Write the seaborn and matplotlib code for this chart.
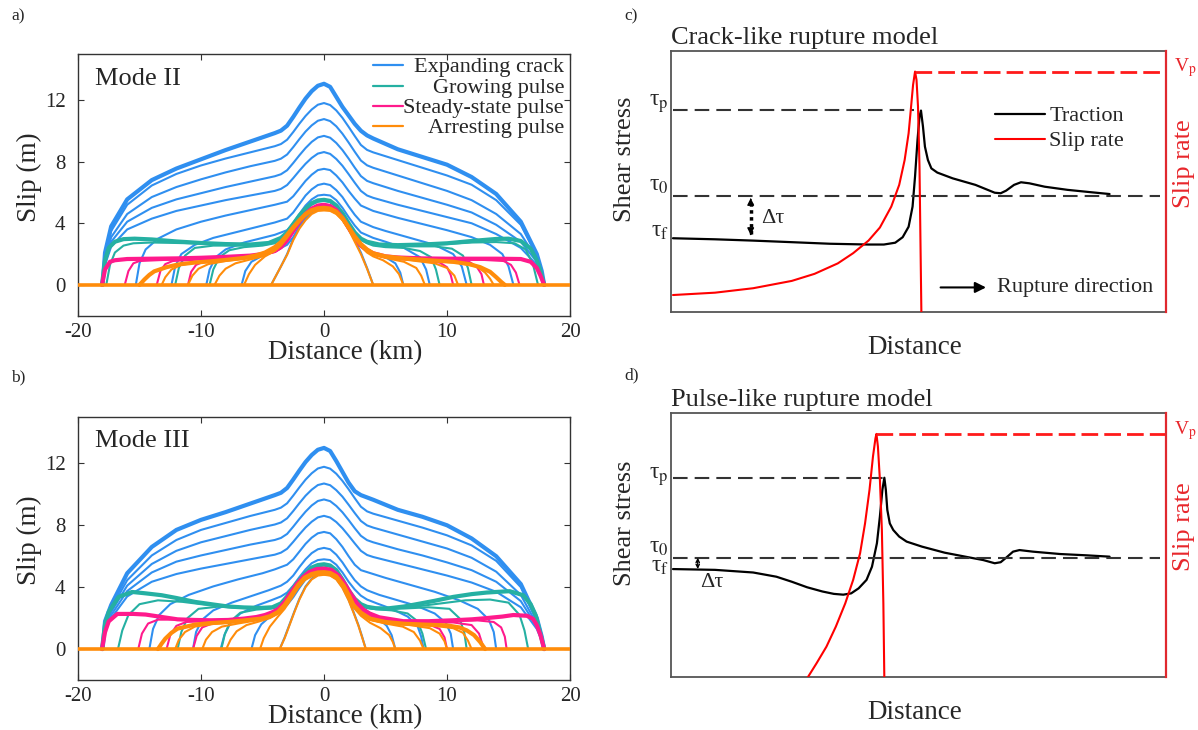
import numpy as np
import pandas as pd
import matplotlib
matplotlib.use('Agg')
from matplotlib import pyplot as plt
from matplotlib.lines import Line2D
import seaborn as sns

sns.set_style('ticks')
plt.rcParams['font.family'] = ['Liberation Serif', 'DejaVu Serif']
plt.rcParams['mathtext.fontset'] = 'stix'
plt.rcParams['axes.unicode_minus'] = False

BLUE = '#2f8ff0'
TEAL = '#25b0a2'
PINK = '#ff1a8c'
ORANGE = '#ff8c0a'

# ---------------- slip profiles, Mode II (panel a) ----------------
# crack profiles whose tips reached the +-18 km barriers share this grid
crack_grid = [-18, -17.8, -17.3, -16, -14, -12, -10, -8, -6, -4, -3.5, -3, -2.5, -2, -1.5, -1, -0.5, 0,
              0.5, 1, 1.5, 2, 2.5, 3, 3.5, 4, 6, 8, 10, 12, 14, 16, 17.3, 17.7, 17.9]

m2_crack_x = [
    [-4.3, -3.9, -3.5, -3, -2.5, -2, -1.5, -1, -0.5, 0, 0.5, 1, 1.5, 2, 2.5, 3, 3.5, 4.0],
    [-6.7, -6.4, -5.9, -5, -4, -3, -2.5, -2, -1.5, -1, -0.5, 0, 0.5, 1, 1.5, 2, 2.5, 3, 4, 5, 5.8, 6.2, 6.45],
    [-9.57, -9.3, -8.8, -8, -6.5, -5, -4, -3, -2.5, -2, -1.5, -1, -0.5, 0, 0.5, 1, 1.5, 2, 2.5, 3, 4, 5, 6.5, 7.8, 8.3, 8.6],
    [-12.4, -12.1, -11.6, -10.5, -9, -7, -5, -4, -3, -2.5, -2, -1.5, -1, -0.5, 0, 0.5, 1, 1.5, 2, 2.5, 3, 4, 5, 7, 9, 10.5, 11.2, 11.6],
    [-15.3, -15.0, -14.5, -13.5, -12, -10, -8, -6, -4, -3, -2.5, -2, -1.5, -1, -0.5, 0, 0.5, 1, 1.5, 2, 2.5, 3, 4, 6, 8, 10, 12, 13.5, 14.5, 15.0, 15.4],
    crack_grid, crack_grid, crack_grid, crack_grid, crack_grid]
m2_crack_y = [
    [0, 0.6, 1.2, 2.0, 3.0, 3.75, 4.3, 4.7, 4.87, 4.9, 4.87, 4.7, 4.3, 3.7, 2.9, 2.1, 1.1, 0],
    [0, 0.9, 1.5, 1.9, 2.2, 2.6, 3.1, 3.8, 4.45, 4.9, 5.15, 5.2, 5.15, 4.85, 4.3, 3.6, 3.0, 2.55, 2.1, 1.8, 1.4, 0.8, 0],
    [0, 1.0, 1.8, 2.3, 2.75, 3.05, 3.25, 3.55, 4.0, 4.6, 5.15, 5.55, 5.8, 5.85, 5.8, 5.5, 5.0, 4.4, 3.85, 3.4, 3.05, 2.8, 2.4, 1.8, 1.0, 0],
    [0, 1.2, 2.0, 2.6, 3.05, 3.45, 3.85, 4.05, 4.3, 4.7, 5.25, 5.8, 6.2, 6.48, 6.57, 6.48, 6.15, 5.7, 5.1, 4.55, 4.1, 3.75, 3.5, 3.05, 2.6, 2.0, 1.2, 0],
    [0, 1.4, 2.3, 3.0, 3.6, 4.1, 4.5, 4.85, 5.2, 5.4, 5.75, 6.25, 6.75, 7.15, 7.45, 7.53, 7.45, 7.1, 6.65, 6.1, 5.6, 5.15, 4.8, 4.35, 3.95, 3.55, 3.1, 2.6, 2.0, 1.2, 0],
    [0, 1.3, 2.5, 3.6, 4.3, 4.8, 5.15, 5.5, 5.8, 6.1, 6.23, 6.48, 6.93, 7.41, 7.86, 8.24, 8.52, 8.62,
     8.5, 8.17, 7.73, 7.19, 6.63, 6.1, 5.8, 5.65, 5.2, 4.8, 4.4, 4.0, 3.3, 2.4, 1.3, 0.6, 0],
    [0, 1.5, 2.8, 4.1, 5.0, 5.55, 5.95, 6.35, 6.7, 7.05, 7.18, 7.44, 7.91, 8.41, 8.88, 9.28, 9.57, 9.67,
     9.55, 9.21, 8.75, 8.2, 7.61, 7.06, 6.75, 6.6, 6.1, 5.65, 5.2, 4.7, 3.9, 2.8, 1.5, 0.7, 0],
    [0, 1.7, 3.1, 4.6, 5.7, 6.35, 6.85, 7.3, 7.7, 8.05, 8.19, 8.46, 8.94, 9.46, 9.95, 10.35, 10.65, 10.76,
     10.63, 10.29, 9.81, 9.24, 8.64, 8.07, 7.76, 7.6, 7.1, 6.6, 6.1, 5.5, 4.6, 3.3, 1.7, 0.8, 0],
    [0, 1.9, 3.5, 5.2, 6.45, 7.2, 7.75, 8.2, 8.6, 9.0, 9.14, 9.42, 9.92, 10.46, 10.96, 11.38, 11.69, 11.8,
     11.67, 11.32, 10.84, 10.26, 9.66, 9.08, 8.76, 8.6, 8.1, 7.6, 7.1, 6.5, 5.5, 3.9, 1.9, 0.9, 0],
    [0, 2.1, 3.8, 5.55, 6.8, 7.55, 8.15, 8.75, 9.3, 9.85, 10.01, 10.33, 10.9, 11.51, 12.09, 12.57, 12.92, 13.05,
     12.85, 12.2, 11.55, 11.0, 10.45, 10.0, 9.7, 9.5, 8.8, 8.3, 7.8, 7.0, 5.9, 4.1, 2.0, 0.9, 0]]

m2_grow_x = [
    [-9.3, -9.0, -8.5, -7.7, -6.5, -5, -4, -3.5, -3, -2.5, -2, -1.5, -1, -0.5, 0, 0.5, 1, 1.5, 2, 2.5, 3, 3.5, 4, 5, 6.5, 7.8, 8.7, 9.1, 9.4],
    [-12.1, -11.8, -11.3, -10.5, -9, -7, -5, -4, -3.5, -3, -2.5, -2, -1.5, -1, -0.5, 0, 0.5, 1, 1.5, 2, 2.5, 3, 3.5, 4, 5, 7, 9, 10.4, 11.3, 11.7, 12.0],
    [-17.7, -17.4, -17.0, -16.3, -15.5, -14, -12, -10, -8, -6, -4.5, -3.5, -3, -2.5, -2, -1.5, -1, -0.5, 0, 0.5, 1, 1.5, 2, 2.5, 3, 3.5, 4.5, 6, 8, 10, 12, 14, 15.5, 16.4, 17.0, 17.4],
    [-18.05, -17.8, -17.5, -17.0, -16.3, -15.4, -14, -12, -10, -8, -6, -4.5, -3.5, -3.0, -2.5, -2.0, -1.5, -1.0, -0.5, 0, 0.5, 1.0, 1.5, 2.0, 2.5, 3.0, 3.5, 4.5, 6, 8, 10, 12, 14, 15, 16, 16.8, 17.3, 17.6, 17.9]]
m2_grow_y = [
    [0, 1.0, 1.8, 2.25, 2.45, 2.55, 2.7, 2.95, 3.3, 3.85, 4.4, 4.85, 5.2, 5.4, 5.45, 5.38, 5.08, 4.58, 3.93, 3.33, 2.92, 2.7, 2.55, 2.45, 2.4, 2.2, 1.8, 1.0, 0],
    [0, 1.1, 1.9, 2.4, 2.55, 2.55, 2.6, 2.75, 3.0, 3.35, 3.9, 4.45, 4.9, 5.25, 5.43, 5.48, 5.4, 5.1, 4.6, 3.95, 3.35, 2.95, 2.75, 2.6, 2.5, 2.5, 2.5, 2.35, 1.9, 1.1, 0],
    [0, 1.3, 2.1, 2.55, 2.7, 2.75, 2.72, 2.68, 2.62, 2.6, 2.7, 3.02, 3.38, 3.92, 4.47, 4.92, 5.27, 5.45, 5.5, 5.42, 5.12, 4.62, 3.98, 3.38, 2.98, 2.78, 2.6, 2.55, 2.58, 2.65, 2.75, 2.78, 2.7, 2.3, 1.3, 0],
    [0, 1.6, 2.4, 2.8, 2.97, 3.0, 2.95, 2.82, 2.72, 2.65, 2.62, 2.72, 3.05, 3.4, 3.95, 4.5, 4.95, 5.3, 5.48, 5.52, 5.45, 5.15, 4.65, 4.0, 3.4, 3.0, 2.8, 2.62, 2.58, 2.62, 2.7, 2.85, 2.98, 3.0, 2.85, 2.35, 1.6, 0.9, 0]]

m2_steady_x = [
    [-11.06, -10.8, -10.4, -9.8, -8, -6, -5, -4, -3.5, -3, -2.5, -2, -1.5, -1, -0.5, 0, 0.5, 1, 1.5, 2, 2.5, 3, 3.5, 4, 5, 6, 8, 9.4, 10.0, 10.3, 10.5],
    [-13.6, -13.3, -12.9, -12.3, -10, -8, -6, -5, -4, -3.5, -3, -2.5, -2, -1.5, -1, -0.5, 0, 0.5, 1, 1.5, 2, 2.5, 3, 3.5, 4, 5, 6, 8, 10, 11.8, 12.4, 12.8, 13.0],
    [-16.2, -15.9, -15.5, -15, -13, -10, -8, -6, -5, -4, -3.5, -3, -2.5, -2, -1.5, -1, -0.5, 0, 0.5, 1, 1.5, 2, 2.5, 3, 3.5, 4, 5, 6, 8, 10, 13, 14.6, 15.2, 15.6, 15.9],
    [-18.05, -17.8, -17.4, -17.0, -16, -14, -12, -10, -8, -6, -5, -4, -3.5, -3, -2.5, -2, -1.5, -1, -0.5, 0, 0.5, 1, 1.5, 2, 2.5, 3, 3.5, 4, 5, 6, 8, 10, 12, 14, 16, 16.8, 17.3, 17.6, 17.9]]
m2_steady_y = [
    [0, 0.85, 1.3, 1.5, 1.68, 1.82, 1.94, 2.14, 2.38, 2.83, 3.43, 4.03, 4.53, 4.88, 5.08, 5.13, 5.06, 4.78, 4.28, 3.63, 2.98, 2.48, 2.18, 1.98, 1.78, 1.68, 1.58, 1.45, 1.15, 0.65, 0],
    [0, 0.9, 1.35, 1.55, 1.65, 1.74, 1.85, 1.96, 2.16, 2.4, 2.85, 3.45, 4.05, 4.55, 4.9, 5.1, 5.15, 5.08, 4.8, 4.3, 3.65, 3.0, 2.5, 2.2, 2.0, 1.8, 1.72, 1.65, 1.6, 1.5, 1.2, 0.7, 0],
    [0, 0.9, 1.4, 1.55, 1.62, 1.68, 1.76, 1.86, 1.97, 2.17, 2.42, 2.87, 3.47, 4.07, 4.57, 4.92, 5.12, 5.17, 5.1, 4.83, 4.33, 3.68, 3.03, 2.53, 2.23, 2.03, 1.83, 1.75, 1.68, 1.65, 1.62, 1.55, 1.3, 0.8, 0],
    [0, 1.0, 1.5, 1.6, 1.68, 1.7, 1.72, 1.76, 1.82, 1.9, 2.0, 2.2, 2.45, 2.9, 3.5, 4.1, 4.6, 4.95, 5.15, 5.2, 5.12, 4.85, 4.35, 3.7, 3.05, 2.55, 2.25, 2.05, 1.85, 1.78, 1.72, 1.7, 1.7, 1.7, 1.68, 1.5, 1.1, 0.6, 0]]

m2_arrest_x = [
    [-4.3, -3.9, -3.5, -3, -2.5, -2, -1.5, -1, -0.5, 0, 0.5, 1, 1.5, 2, 2.5, 3, 3.5, 4.0],
    [-6.5, -6.1, -5.6, -4.8, -4, -3.5, -3, -2.5, -2, -1.5, -1, -0.5, 0, 0.5, 1, 1.5, 2, 2.5, 3, 3.5, 4, 4.8, 5.6, 6.1, 6.45],
    [-8.9, -8.5, -8.0, -7.2, -6, -5, -4, -3.5, -3, -2.5, -2, -1.5, -1, -0.5, 0, 0.5, 1, 1.5, 2, 2.5, 3, 3.5, 4, 5, 6.5, 7.5, 7.9, 8.2],
    [-11.06, -10.7, -10.2, -9.4, -8, -6, -5, -4, -3.5, -3, -2.5, -2, -1.5, -1, -0.5, 0, 0.5, 1, 1.5, 2, 2.5, 3, 3.5, 4, 5, 7, 9, 10.0, 10.6, 10.9],
    [-13.2, -12.9, -12.4, -11.6, -10, -8, -6, -5, -4, -3.5, -3, -2.5, -2, -1.5, -1, -0.5, 0, 0.5, 1, 1.5, 2, 2.5, 3, 3.5, 4, 5, 7, 9, 11, 12.4, 13.1, 13.5, 13.8],
    [-15.0, -14.6, -14.2, -13.8, -12.8, -11.9, -10.5, -9.2, -8, -6.5, -5.5, -4.8, -4, -3.5, -3, -2.5, -2, -1.5, -1, -0.5, 0, 0.5, 1, 1.5, 2, 2.5, 3, 3.5, 4, 5, 6.5, 8.5, 10.5, 11.8, 12.7, 13.5, 14.0, 14.4, 14.7]]
m2_arrest_y = [
    [0, 0.6, 1.2, 1.95, 2.9, 3.65, 4.2, 4.6, 4.8, 4.83, 4.8, 4.6, 4.2, 3.6, 2.8, 2.0, 1.05, 0],
    [0, 0.7, 1.3, 1.85, 2.2, 2.55, 3.05, 3.6, 4.08, 4.48, 4.75, 4.87, 4.9, 4.85, 4.63, 4.23, 3.63, 3.03, 2.5, 2.1, 1.85, 1.6, 1.2, 0.7, 0],
    [0, 0.6, 1.05, 1.4, 1.65, 1.85, 2.25, 2.62, 3.12, 3.65, 4.12, 4.52, 4.78, 4.9, 4.93, 4.88, 4.67, 4.27, 3.67, 3.07, 2.57, 2.2, 1.95, 1.75, 1.5, 1.1, 0.6, 0],
    [0, 0.6, 1.05, 1.35, 1.55, 1.75, 1.93, 2.33, 2.68, 3.18, 3.7, 4.16, 4.56, 4.81, 4.93, 4.96, 4.91, 4.7, 4.3, 3.7, 3.1, 2.6, 2.25, 2.0, 1.8, 1.6, 1.4, 1.1, 0.6, 0],
    [0, 0.5, 1.0, 1.3, 1.5, 1.62, 1.78, 1.95, 2.35, 2.7, 3.2, 3.72, 4.18, 4.58, 4.83, 4.95, 4.98, 4.93, 4.72, 4.32, 3.72, 3.12, 2.62, 2.27, 2.02, 1.82, 1.65, 1.55, 1.42, 1.2, 0.8, 0.4, 0],
    [0, 0.35, 0.65, 0.88, 1.15, 1.32, 1.45, 1.53, 1.62, 1.75, 1.92, 2.1, 2.45, 2.78, 3.25, 3.75, 4.2, 4.6, 4.85, 4.97, 5.0, 4.95, 4.75, 4.35, 3.75, 3.15, 2.65, 2.3, 2.05, 1.85, 1.72, 1.6, 1.5, 1.35, 1.15, 0.85, 0.5, 0.2, 0]]

# ---------------- slip profiles, Mode III (panel b) ----------------
m3_crack_x = [
    [-3.6, -3.2, -2.8, -2.4, -2, -1.5, -1, -0.5, 0, 0.5, 1, 1.5, 2, 2.4, 2.8, 3.1, 3.4],
    [-5.9, -5.6, -5.1, -4.4, -3.6, -3, -2.5, -2, -1.5, -1, -0.5, 0, 0.5, 1, 1.5, 2, 2.5, 3, 3.6, 4.4, 5.1, 5.5, 5.8],
    [-8.4, -8.1, -7.6, -6.8, -5.5, -4.3, -3.5, -3, -2.5, -2, -1.5, -1, -0.5, 0, 0.5, 1, 1.5, 2, 2.5, 3, 3.5, 4.3, 5.5, 6.8, 7.6, 7.9, 8.1],
    [-10.65, -10.4, -9.9, -9, -7.5, -6, -4.5, -3.5, -3, -2.5, -2, -1.5, -1, -0.5, 0, 0.5, 1, 1.5, 2, 2.5, 3, 3.5, 4.5, 6, 7.5, 9, 9.9, 10.3, 10.5],
    [-14.2, -13.9, -13.4, -12.5, -11, -9, -7, -5, -4, -3, -2.5, -2, -1.5, -1, -0.5, 0, 0.5, 1, 1.5, 2, 2.5, 3, 4, 5, 7, 9, 11, 12.5, 13.4, 13.8, 14.0],
    crack_grid, crack_grid, crack_grid, crack_grid, crack_grid]
m3_crack_y = [
    [0, 0.75, 1.6, 2.45, 3.25, 4.05, 4.55, 4.8, 4.85, 4.8, 4.55, 4.0, 3.2, 2.4, 1.55, 0.8, 0],
    [0, 0.9, 1.6, 2.1, 2.5, 2.85, 3.35, 3.95, 4.5, 4.9, 5.1, 5.15, 5.1, 4.85, 4.35, 3.75, 3.2, 2.75, 2.4, 2.0, 1.5, 0.9, 0],
    [0, 0.9, 1.7, 2.3, 2.8, 3.15, 3.4, 3.65, 4.1, 4.65, 5.15, 5.55, 5.75, 5.8, 5.75, 5.45, 4.95, 4.35, 3.85, 3.45, 3.2, 2.95, 2.6, 2.1, 1.5, 0.8, 0],
    [0, 1.1, 1.9, 2.5, 3.0, 3.4, 3.8, 4.1, 4.35, 4.75, 5.3, 5.8, 6.2, 6.45, 6.54, 6.45, 6.1, 5.6, 5.0, 4.45, 4.05, 3.8, 3.5, 3.15, 2.8, 2.3, 1.7, 1.0, 0],
    [0, 1.3, 2.2, 2.9, 3.5, 4.05, 4.5, 4.9, 5.15, 5.45, 5.8, 6.3, 6.8, 7.2, 7.48, 7.57, 7.48, 7.1, 6.6, 6.0, 5.45, 5.1, 4.85, 4.6, 4.15, 3.7, 3.15, 2.6, 1.9, 1.1, 0],
    [0, 1.3, 2.0, 3.4, 4.35, 4.85, 5.2, 5.5, 5.8, 6.1, 6.23, 6.48, 6.93, 7.41, 7.86, 8.23, 8.51, 8.61,
     8.5, 8.21, 7.81, 7.33, 6.83, 6.35, 6.08, 5.95, 5.55, 5.15, 4.75, 4.3, 3.7, 2.7, 1.3, 0.55, 0],
    [0, 1.4, 2.2, 3.75, 4.95, 5.65, 6.05, 6.4, 6.75, 7.05, 7.18, 7.44, 7.91, 8.41, 8.88, 9.28, 9.57, 9.67,
     9.56, 9.25, 8.84, 8.34, 7.81, 7.32, 7.04, 6.9, 6.45, 6.05, 5.6, 5.1, 4.35, 3.1, 1.45, 0.6, 0],
    [0, 1.5, 2.4, 4.1, 5.5, 6.35, 6.9, 7.3, 7.7, 8.05, 8.18, 8.45, 8.92, 9.43, 9.91, 10.3, 10.6, 10.7,
     10.59, 10.27, 9.85, 9.33, 8.79, 8.28, 7.99, 7.85, 7.4, 6.95, 6.5, 5.9, 5.0, 3.5, 1.6, 0.7, 0],
    [0, 1.6, 2.6, 4.45, 6.05, 7.05, 7.7, 8.15, 8.6, 9.0, 9.14, 9.42, 9.92, 10.45, 10.95, 11.36, 11.67, 11.78,
     11.66, 11.33, 10.87, 10.33, 9.75, 9.2, 8.9, 8.75, 8.3, 7.85, 7.35, 6.7, 5.7, 4.0, 1.8, 0.75, 0],
    [0, 1.8, 2.85, 4.9, 6.6, 7.7, 8.35, 8.85, 9.4, 9.95, 10.1, 10.41, 10.96, 11.54, 12.09, 12.54, 12.88, 13.0,
     12.8, 12.15, 11.45, 10.75, 10.2, 9.95, 9.8, 9.65, 9.0, 8.55, 8.0, 7.15, 6.0, 4.2, 2.0, 0.8, 0]]

m3_grow_x = [
    [-8.35, -8.05, -7.6, -6.8, -5.5, -4.3, -3.5, -3, -2.5, -2, -1.5, -1, -0.5, 0, 0.5, 1, 1.5, 2, 2.5, 3, 3.5, 4.3, 5.5, 6.8, 7.6, 8.0, 8.3],
    [-11.9, -11.6, -11.1, -10.2, -8.5, -6.5, -5, -4, -3.5, -3, -2.5, -2, -1.5, -1, -0.5, 0, 0.5, 1, 1.5, 2, 2.5, 3, 3.5, 4, 5, 6.5, 8.5, 10.2, 11.0, 11.4, 11.6],
    [-16.75, -16.4, -15.9, -15, -13.5, -11.5, -9.5, -7.5, -5.5, -4.2, -3.5, -3, -2.5, -2, -1.5, -1, -0.5, 0, 0.5, 1, 1.5, 2, 2.5, 3, 3.5, 4.2, 5.5, 7.5, 9.5, 11.5, 13.5, 15.0, 15.9, 16.3, 16.6],
    [-18.05, -17.8, -17.5, -16.7, -15.6, -14.5, -13.2, -12, -10.5, -9, -7.8, -6.5, -5.1, -4.2, -3.5, -3, -2.5, -2, -1.5, -1, -0.5, 0, 0.5, 1, 1.5, 2, 2.5, 3, 3.5, 4.2, 5.1, 6.5, 7.8, 9, 10.5, 12, 13.2, 14.2, 15.1, 16.2, 16.8, 17.2, 17.56, 17.9]]
m3_grow_y = [
    [0, 1.0, 1.8, 2.35, 2.55, 2.62, 2.87, 3.32, 3.87, 4.37, 4.82, 5.18, 5.35, 5.4, 5.32, 5.02, 4.42, 3.72, 3.17, 2.82, 2.65, 2.57, 2.5, 2.3, 1.8, 1.0, 0],
    [0, 1.1, 2.0, 2.6, 2.75, 2.65, 2.62, 2.66, 2.9, 3.35, 3.9, 4.4, 4.85, 5.22, 5.38, 5.43, 5.35, 5.05, 4.45, 3.75, 3.2, 2.85, 2.68, 2.6, 2.58, 2.62, 2.7, 2.6, 2.0, 1.1, 0],
    [0, 1.2, 2.2, 2.9, 3.15, 3.05, 2.85, 2.7, 2.63, 2.67, 2.92, 3.37, 3.92, 4.42, 4.87, 5.24, 5.4, 5.45, 5.37, 5.07, 4.47, 3.77, 3.22, 2.87, 2.7, 2.6, 2.6, 2.75, 2.95, 3.15, 3.2, 3.0, 2.2, 1.2, 0],
    [0, 1.6, 2.4, 3.37, 3.69, 3.6, 3.48, 3.3, 3.05, 2.88, 2.75, 2.69, 2.66, 2.7, 2.95, 3.4, 3.95, 4.45, 4.9, 5.27, 5.43, 5.48, 5.4, 5.1, 4.5, 3.8, 3.25, 2.9, 2.73, 2.64, 2.62, 2.75, 2.94, 3.12, 3.37, 3.55, 3.65, 3.7, 3.74, 3.48, 2.9, 2.2, 1.1, 0]]

m3_steady_x = [
    [-10.65, -10.35, -9.9, -9.1, -7.5, -6, -5, -4.2, -3.7, -3.2, -2.7, -2.2, -1.7, -1.2, -0.6, 0, 0.6, 1.2, 1.7, 2.2, 2.7, 3.2, 3.7, 4.5, 6.5, 8.5, 9.4, 9.8, 10.0],
    [-12.8, -12.5, -12.0, -11.2, -9.5, -7.5, -6, -5, -4.2, -3.7, -3.2, -2.7, -2.2, -1.7, -1.2, -0.6, 0, 0.6, 1.2, 1.7, 2.2, 2.7, 3.2, 3.7, 4.5, 6.5, 8.5, 10.5, 12.0, 12.6, 13.0],
    [-15.1, -14.8, -14.3, -13.5, -12, -10, -8, -6.5, -5, -4.2, -3.7, -3.2, -2.7, -2.2, -1.7, -1.2, -0.6, 0, 0.6, 1.2, 1.7, 2.2, 2.7, 3.2, 3.7, 4.5, 6.5, 8.5, 10.5, 12.5, 13.8, 14.4, 14.7, 14.85],
    [-18.05, -17.8, -17.5, -16.8, -15.5, -14.5, -13, -11.9, -10.5, -9.2, -7.8, -6.5, -5.5, -4.8, -4.2, -3.7, -3.2, -2.7, -2.2, -1.7, -1.2, -0.6, 0, 0.6, 1.2, 1.7, 2.2, 2.7, 3.2, 3.7, 4.5, 6.45, 8.5, 10.5, 12, 13.2, 14.5, 15.4, 16.5, 17.0, 17.3, 17.6, 17.9]]
m3_steady_y = [
    [0, 0.85, 1.4, 1.65, 1.78, 1.88, 2.03, 2.26, 2.48, 2.93, 3.53, 4.08, 4.53, 4.86, 5.05, 5.08, 5.0, 4.63, 4.08, 3.43, 2.83, 2.43, 2.18, 1.93, 1.7, 1.6, 1.3, 0.75, 0],
    [0, 0.9, 1.5, 1.75, 1.8, 1.84, 1.92, 2.07, 2.3, 2.52, 2.97, 3.57, 4.12, 4.57, 4.9, 5.09, 5.12, 5.04, 4.67, 4.12, 3.47, 2.87, 2.47, 2.22, 1.97, 1.75, 1.72, 1.72, 1.55, 1.0, 0],
    [0, 1.0, 1.65, 1.9, 1.9, 1.85, 1.85, 1.92, 2.1, 2.33, 2.55, 3.0, 3.6, 4.15, 4.6, 4.93, 5.12, 5.15, 5.07, 4.7, 4.15, 3.5, 2.9, 2.5, 2.25, 2.0, 1.78, 1.78, 1.82, 1.85, 1.75, 1.4, 0.8, 0],
    [0, 1.1, 1.79, 2.27, 2.27, 2.23, 2.05, 1.92, 1.88, 1.86, 1.88, 1.97, 2.07, 2.2, 2.38, 2.6, 3.05, 3.65, 4.2, 4.65, 4.98, 5.17, 5.2, 5.12, 4.75, 4.2, 3.55, 2.95, 2.55, 2.3, 2.05, 1.8, 1.8, 1.86, 1.92, 2.0, 2.1, 2.2, 2.15, 1.95, 1.54, 0.9, 0]]

m3_arrest_x = [
    [-3.6, -3.2, -2.8, -2.4, -2, -1.5, -1, -0.5, 0, 0.5, 1, 1.5, 2, 2.4, 2.8, 3.1, 3.4],
    [-5.2, -4.9, -4.4, -3.74, -3.2, -2.66, -2.1, -1.57, -1.0, -0.5, 0, 0.5, 1.0, 1.6, 2.0, 2.39, 3.0, 3.74, 4.6, 5.3, 5.6, 5.8],
    [-7.95, -7.6, -7.1, -6.3, -5.2, -4.4, -3.74, -3.2, -2.66, -2.1, -1.57, -1.0, -0.5, 0, 0.5, 1.0, 1.6, 2.0, 2.39, 3.0, 3.74, 5.0, 6.4, 7.3, 7.8, 8.1],
    [-9.9, -9.6, -9.1, -8.3, -7, -5.5, -4.4, -3.74, -3.2, -2.66, -2.1, -1.57, -1.0, -0.5, 0, 0.5, 1.0, 1.6, 2.0, 2.39, 3.0, 3.74, 5.0, 7, 8.6, 9.4, 9.8, 10.0],
    [-12.1, -11.8, -11.3, -10.5, -9, -7, -5.5, -4.4, -3.74, -3.2, -2.66, -2.1, -1.57, -1.0, -0.5, 0, 0.5, 1.0, 1.6, 2.0, 2.39, 3.0, 3.74, 5.0, 7, 9, 10.5, 11.3, 11.7, 12.0],
    [-13.5, -13.2, -12.9, -12.4, -11.9, -10.5, -9.2, -7.8, -6.5, -5.1, -4.4, -3.74, -3.2, -2.66, -2.1, -1.57, -1.0, -0.5, 0, 0.5, 1.0, 1.6, 2.0, 2.39, 3.0, 3.74, 5.0, 6.45, 8.2, 10.0, 11.0, 11.6, 12.2, 12.7, 13.1]]
m3_arrest_y = [
    [0, 0.7, 1.55, 2.4, 3.2, 4.0, 4.5, 4.75, 4.8, 4.75, 4.5, 3.95, 3.15, 2.35, 1.5, 0.75, 0],
    [0, 0.7, 1.45, 2.1, 2.6, 3.25, 3.95, 4.45, 4.7, 4.8, 4.82, 4.77, 4.55, 3.95, 3.35, 2.7, 2.15, 1.7, 1.35, 0.9, 0.45, 0],
    [0, 0.6, 1.15, 1.55, 1.8, 2.0, 2.28, 2.72, 3.34, 4.02, 4.5, 4.74, 4.84, 4.86, 4.81, 4.6, 4.0, 3.4, 2.75, 2.25, 1.88, 1.65, 1.45, 1.1, 0.55, 0],
    [0, 0.6, 1.1, 1.45, 1.65, 1.85, 2.04, 2.32, 2.76, 3.38, 4.06, 4.53, 4.77, 4.87, 4.89, 4.84, 4.62, 4.02, 3.42, 2.77, 2.27, 1.9, 1.68, 1.55, 1.35, 1.0, 0.5, 0],
    [0, 0.6, 1.1, 1.45, 1.62, 1.75, 1.9, 2.08, 2.36, 2.8, 3.42, 4.1, 4.57, 4.8, 4.9, 4.92, 4.87, 4.65, 4.05, 3.45, 2.8, 2.3, 1.93, 1.72, 1.6, 1.5, 1.35, 1.05, 0.55, 0],
    [0, 0.35, 0.67, 1.05, 1.32, 1.58, 1.68, 1.75, 1.85, 1.97, 2.12, 2.4, 2.85, 3.47, 4.15, 4.62, 4.85, 4.95, 4.97, 4.92, 4.7, 4.1, 3.5, 2.85, 2.35, 1.97, 1.75, 1.64, 1.58, 1.53, 1.4, 1.21, 0.9, 0.45, 0]]

legend_labels = ['Expanding crack', 'Growing pulse', 'Steady-state pulse', 'Arresting pulse']

# ---------------- sketches (normalised units), panel c ----------------
crack_trac_x = [0.004, 0.089, 0.166, 0.244, 0.321, 0.399, 0.430, 0.453, 0.468, 0.480, 0.488, 0.493, 0.498, 0.502,
                0.505, 0.509, 0.513, 0.519, 0.526, 0.538, 0.569, 0.615, 0.654, 0.666, 0.677, 0.693, 0.707, 0.724,
                0.755, 0.801, 0.848, 0.886]
crack_trac_y = [0.283, 0.279, 0.274, 0.268, 0.262, 0.259, 0.259, 0.266, 0.287, 0.327, 0.404, 0.519, 0.659, 0.748,
                0.771, 0.710, 0.633, 0.582, 0.550, 0.534, 0.512, 0.487, 0.457, 0.455, 0.465, 0.487, 0.497, 0.493,
                0.480, 0.468, 0.459, 0.452]
crack_rate_x = [0.004, 0.089, 0.166, 0.244, 0.290, 0.337, 0.368, 0.399, 0.422, 0.445, 0.461, 0.472, 0.480, 0.485,
                0.489, 0.493, 0.496, 0.499, 0.502, 0.506]
crack_rate_y = [0.066, 0.075, 0.092, 0.120, 0.147, 0.187, 0.226, 0.274, 0.324, 0.404, 0.487, 0.582, 0.684, 0.786,
                0.869, 0.920, 0.888, 0.786, 0.557, -0.03]
crack_levels = {'tau_p': 0.773, 'tau_0': 0.445, 'tau_f': 0.283, 'v_p': 0.920}

# ---------------- sketches (normalised units), panel d ----------------
pulse_trac_x = [0.004, 0.089, 0.166, 0.213, 0.244, 0.275, 0.306, 0.329, 0.348, 0.364, 0.379, 0.395, 0.406, 0.416,
                0.422, 0.427, 0.431, 0.434, 0.437, 0.442, 0.449, 0.461, 0.476, 0.507, 0.553, 0.600, 0.631, 0.654,
                0.666, 0.677, 0.691, 0.704, 0.731, 0.786, 0.840, 0.886]
pulse_trac_y = [0.410, 0.407, 0.397, 0.381, 0.362, 0.341, 0.325, 0.316, 0.313, 0.318, 0.337, 0.369, 0.419, 0.508,
                0.609, 0.710, 0.756, 0.710, 0.634, 0.583, 0.558, 0.533, 0.514, 0.495, 0.472, 0.455, 0.444, 0.432,
                0.436, 0.453, 0.476, 0.482, 0.476, 0.467, 0.462, 0.457]
pulse_rate_x = [0.273, 0.294, 0.314, 0.333, 0.352, 0.368, 0.382, 0.392, 0.401, 0.408, 0.413, 0.415, 0.418, 0.422,
                0.426, 0.429, 0.431]
pulse_rate_y = [-0.01, 0.053, 0.116, 0.192, 0.280, 0.369, 0.470, 0.583, 0.710, 0.836, 0.905, 0.922, 0.874, 0.748,
                0.558, 0.280, -0.01]
pulse_levels = {'tau_p': 0.756, 'tau_0': 0.453, 'tau_f': 0.410, 'v_p': 0.922}


def slip_panel(ax, fams, mode_text, mode_y):
    for color, xs_list, ys_list in fams:
        rows = []
        for k in range(len(xs_list)):
            for x, y in zip(xs_list[k], ys_list[k]):
                rows.append((x, y, k))
        df = pd.DataFrame(rows, columns=['dist', 'slip', 'curve'])
        last = len(xs_list) - 1
        sns.lineplot(data=df[df.curve < last], x='dist', y='slip', units='curve', estimator=None,
                     sort=False, color=color, lw=1.5, ax=ax)
        sns.lineplot(data=df[df.curve == last], x='dist', y='slip', estimator=None,
                     sort=False, color=color, lw=3.0, ax=ax)
    ax.axhline(0, color=ORANGE, lw=2.6, zorder=5)
    ax.set_xlim(-20, 20)
    ax.set_ylim(-2, 15)
    ax.set_xticks([-20, -10, 0, 10, 20])
    ax.set_yticks([0, 4, 8, 12])
    ax.tick_params(direction='in', top=True, right=True, length=4, labelsize=15, color='#333333')
    ax.tick_params(axis='x', pad=5)
    ax.tick_params(axis='y', pad=9)
    for s in ax.spines.values():
        s.set_color('#333333')
        s.set_linewidth(1.0)
    ax.set_xlabel('Distance (km)', fontsize=19.5)
    ax.set_ylabel('Slip (m)', fontsize=19.5)
    ax.xaxis.set_label_coords(0.543, -0.092)
    ax.yaxis.set_label_coords(-0.073, 0.53)
    ax.text(0.034, mode_y, mode_text, transform=ax.transAxes, fontsize=19, va='baseline')


def stress_panel(ax, title, tx, ty, rx, ry, lv, tp_end, vp_start, labels_y, dlab):
    ax.set_xlim(0, 1)
    ax.set_ylim(0, 1)
    sns.lineplot(x=tx, y=ty, sort=False, estimator=None, color='black', lw=1.6, ax=ax)
    ax.hlines(lv['tau_p'], 0.004, tp_end, colors='#333333', lw=1.5, linestyles=(0, (7, 3.4)))
    ax.hlines(lv['tau_0'], 0.004, 0.987, colors='#333333', lw=1.5, linestyles=(0, (7, 3.4)))
    ax2 = ax.twinx()
    ax2.set_ylim(0, 1)
    sns.lineplot(x=rx, y=ry, sort=False, estimator=None, color='#ff0000', lw=1.5, ax=ax2)
    ax2.hlines(lv['v_p'], vp_start, 1.0, colors='#ff1a1a', lw=2.0, linestyles=(0, (6, 2.2)))
    ax.set_xticks([])
    ax.set_yticks([])
    ax2.set_yticks([])
    for k in ['left', 'top', 'bottom']:
        ax.spines[k].set_color('#555555')
        ax.spines[k].set_linewidth(1.3)
        ax2.spines[k].set_visible(False)
    ax.spines['right'].set_visible(False)
    ax2.spines['right'].set_color('#e0282e')
    ax2.spines['right'].set_linewidth(1.6)
    ax.set_title(title, loc='left', fontsize=19, pad=5)
    ax.set_xlabel('Distance', fontsize=19.5)
    ax.xaxis.set_label_coords(0.493, -0.085)
    ax.set_ylabel('Shear stress', fontsize=19)
    ax.yaxis.set_label_coords(-0.071, 0.585)
    ax2.set_ylabel('Slip rate', fontsize=19, color='#e8262b')
    ax2.yaxis.set_label_coords(1.015, 0.57)
    for txt, yy in zip(['τ$_{\\mathrm{p}}$', 'τ$_{\\mathrm{0}}$', 'τ$_{\\mathrm{f}}$'], labels_y):
        ax.text(-0.004, yy, txt, transform=ax.transAxes, ha='right', va='baseline', fontsize=17)
    ax.text(1.017, lv['v_p'], 'V$_{\\mathrm{p}}$', transform=ax.transAxes, ha='left', va='baseline',
            fontsize=14, color='#e8262b')
    ax.text(dlab[0], dlab[1], 'Δτ', transform=ax.transAxes, ha='left', va='center', fontsize=16)
    return ax2


fig = plt.figure(figsize=(11.98, 7.30), dpi=100)
fig.patch.set_facecolor('white')

ax_a = fig.add_axes([0.0651, 0.5675, 0.4107, 0.3589])
ax_b = fig.add_axes([0.0651, 0.0685, 0.4107, 0.3603])
ax_c = fig.add_axes([0.5601, 0.5722, 0.4132, 0.3584])
ax_d = fig.add_axes([0.5601, 0.0722, 0.4132, 0.3616])

slip_panel(ax_a, [(BLUE, m2_crack_x, m2_crack_y), (TEAL, m2_grow_x, m2_grow_y),
                  (PINK, m2_steady_x, m2_steady_y), (ORANGE, m2_arrest_x, m2_arrest_y)], 'Mode II', 0.881)
slip_panel(ax_b, [(BLUE, m3_crack_x, m3_crack_y), (TEAL, m3_grow_x, m3_grow_y),
                  (PINK, m3_steady_x, m3_steady_y), (ORANGE, m3_arrest_x, m3_arrest_y)], 'Mode III', 0.885)

# legend of panel a (text right-aligned, lines on the left)
for lab, col, yy in zip(legend_labels, [BLUE, TEAL, PINK, ORANGE], [0.957, 0.877, 0.800, 0.724]):
    ax_a.add_line(Line2D([0.599, 0.661], [yy, yy], transform=ax_a.transAxes, color=col, lw=1.6))
    ax_a.text(0.988, yy, lab, transform=ax_a.transAxes, ha='right', va='center_baseline', fontsize=16)

ax_c2 = stress_panel(ax_c, 'Crack-like rupture model', crack_trac_x, crack_trac_y, crack_rate_x, crack_rate_y,
                     crack_levels, 0.49, 0.493, [0.789, 0.465, 0.289], (0.182, 0.359))
ax_d2 = stress_panel(ax_d, 'Pulse-like rupture model', pulse_trac_x, pulse_trac_y, pulse_rate_x, pulse_rate_y,
                     pulse_levels, 0.431, 0.415, [0.754, 0.472, 0.400], (0.058, 0.36))

# delta tau markers
ax_c.plot([0.161, 0.161], [0.30, 0.43], ls=(0, (1, 1)), color='black', lw=2.5)
ax_c.annotate('', xy=(0.161, 0.447), xytext=(0.161, 0.42),
              arrowprops=dict(arrowstyle='-|>', color='black', lw=1, mutation_scale=10))
ax_c.annotate('', xy=(0.161, 0.285), xytext=(0.161, 0.31),
              arrowprops=dict(arrowstyle='-|>', color='black', lw=1, mutation_scale=10))
ax_d.annotate('', xy=(0.054, 0.453), xytext=(0.054, 0.41),
              arrowprops=dict(arrowstyle='<->', color='black', lw=1, mutation_scale=6,
                              shrinkA=0, shrinkB=0))

# legend and rupture direction in panel c
handles = [Line2D([], [], color='black', lw=1.6), Line2D([], [], color='#ff0000', lw=1.5)]
ax_c2.legend(handles, ['Traction', 'Slip rate'], loc='upper left', bbox_to_anchor=(0.654, 0.789),
             frameon=False, fontsize=16, handlelength=2.25, handletextpad=0.2, labelspacing=0.2,
             borderpad=0, borderaxespad=0)
ax_c2.annotate('', xy=(0.642, 0.095), xytext=(0.539, 0.095), xycoords='axes fraction',
               arrowprops=dict(arrowstyle='-|>', color='black', lw=1.5, mutation_scale=16))
ax_c2.text(0.658, 0.095, 'Rupture direction', transform=ax_c2.transAxes, ha='left', va='center', fontsize=16)

for lab, xx, yy in [('a)', 0.015, 0.978), ('b)', 0.015, 0.4836), ('c)', 0.527, 0.978), ('d)', 0.527, 0.486)]:
    fig.text(xx, yy, lab, ha='center', va='center', fontsize=12.5)

fig.savefig('out.png', dpi=100, facecolor='white')
